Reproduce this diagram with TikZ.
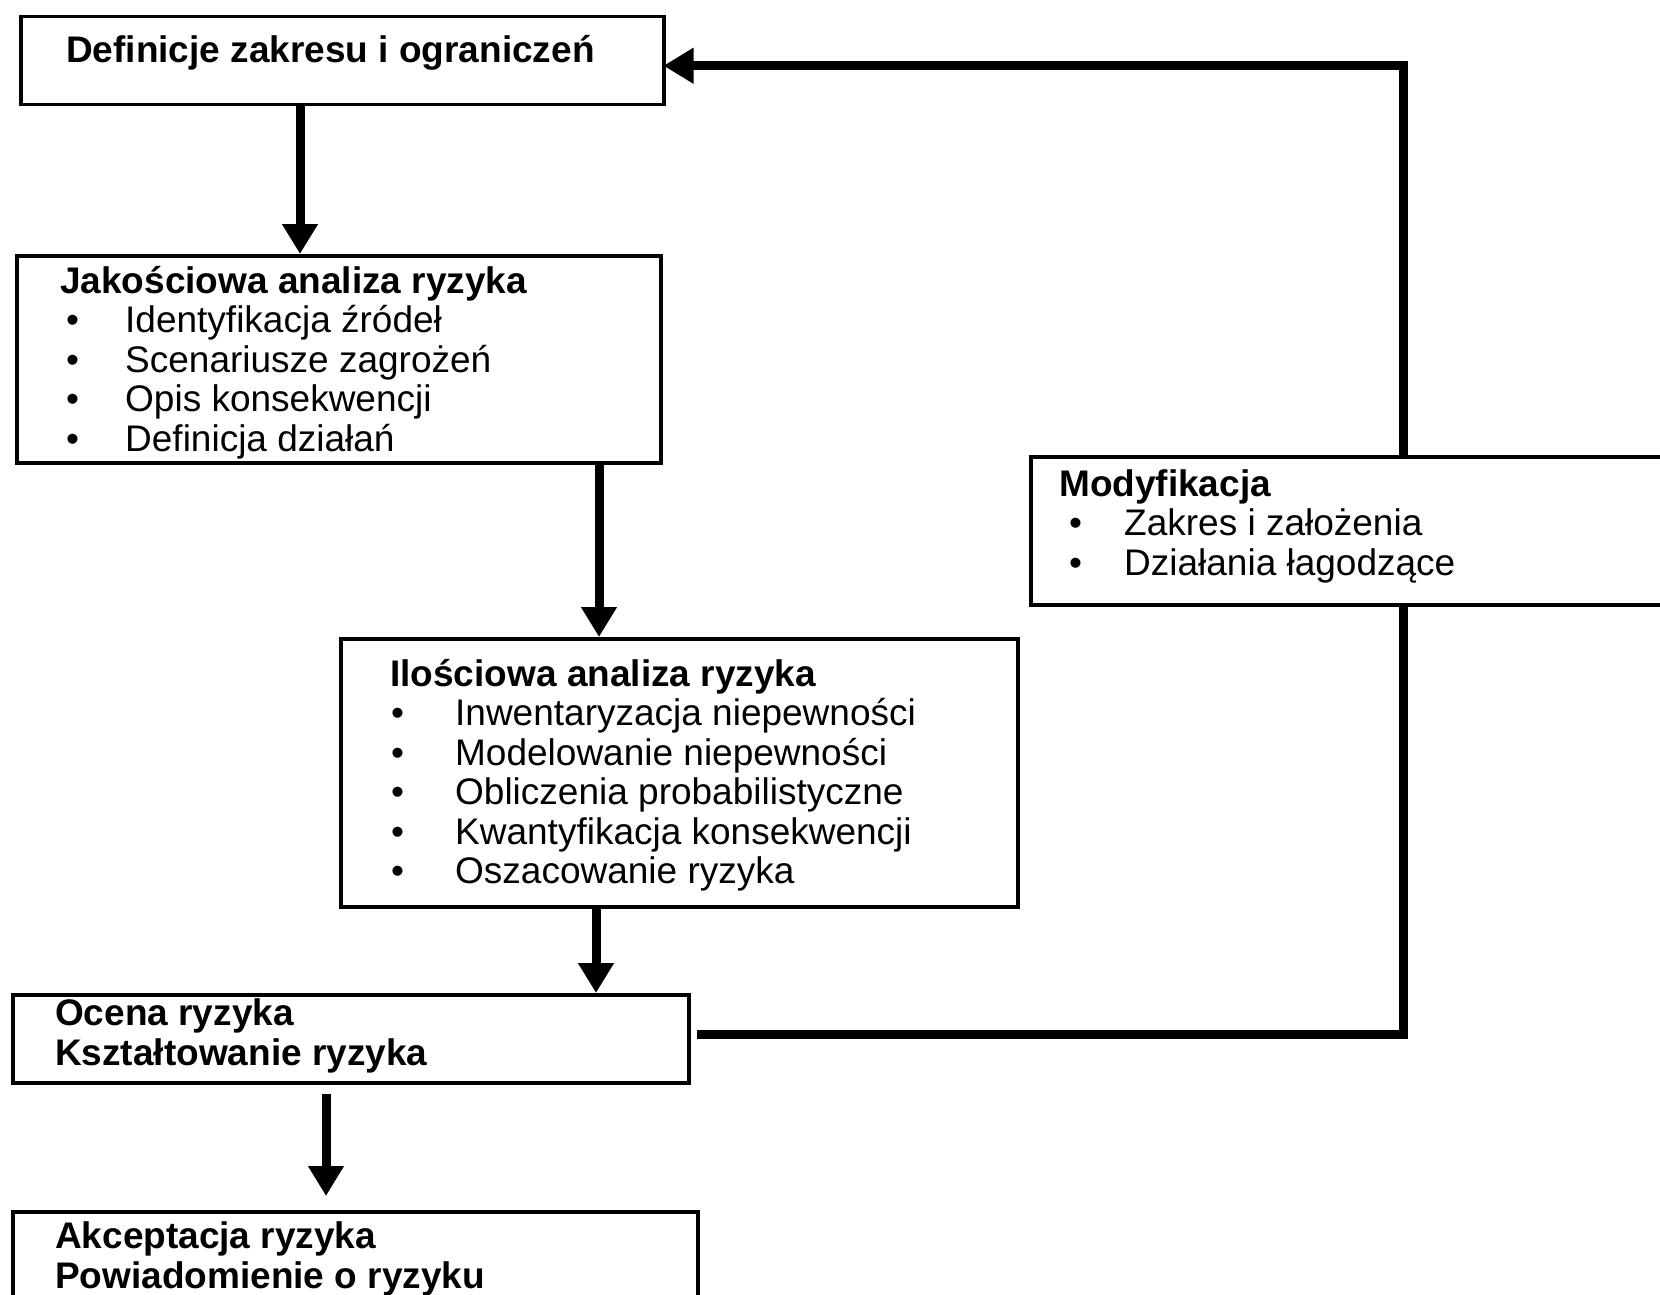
\documentclass[tikz,border=0pt]{standalone}
\usepackage{fontspec}
\setmainfont{Liberation Sans}
\usetikzlibrary{arrows.meta}
\begin{document}
\begin{tikzpicture}[x=1pt,y=-1pt,
  box/.style={draw, line width=3.5pt, rectangle, anchor=north west, inner sep=0pt},
  ln/.style={anchor=base west, inner sep=0pt, font=\fontsize{37}{40}\selectfont},
  hd/.style={anchor=base west, inner sep=0pt, font=\fontsize{37}{40}\selectfont\bfseries},
  conn/.style={line width=9pt},
  arr/.style={conn, -{Triangle[length=30pt,width=34pt]}}]
\useasboundingbox (0,0) rectangle (1660,1295);
\clip (0,0) rectangle (1660,1295);

% boxes
\node[box, minimum width=643pt, minimum height=88pt]  (def) at (19,15) {};
\node[box, minimum width=644pt, minimum height=207pt] (jak) at (15,254) {};
\node[box, minimum width=677pt, minimum height=268pt] (ilo) at (339,637) {};
\node[box, minimum width=676pt, minimum height=88pt]  (oce) at (11,993) {};
\node[box, minimum width=685pt, minimum height=110pt] (akc) at (11,1210) {};
\node[box, minimum width=746pt, minimum height=148pt] (mod) at (1029,455) {};

% texts
\node[hd] (t1) at (66,63) {Definicje zakresu i ograniczeń};

\node[hd] (t2) at (60,293) {Jakościowa analiza ryzyka};
\node[ln] (t2a) at (66,332.5) {\makebox[59pt][l]{•}Identyfikacja źródeł};
\node[ln] (t2b) at (66,372) {\makebox[59pt][l]{•}Scenariusze zagrożeń};
\node[ln] (t2c) at (66,411.5) {\makebox[59pt][l]{•}Opis konsekwencji};
\node[ln] (t2d) at (66,451) {\makebox[59pt][l]{•}Definicja działań};

\node[hd] (t3) at (390,686) {Ilościowa analiza ryzyka};
\node[ln] (t3a) at (391,725.5) {\makebox[64pt][l]{•}Inwentaryzacja niepewności};
\node[ln] (t3b) at (391,765) {\makebox[64pt][l]{•}Modelowanie niepewności};
\node[ln] (t3c) at (391,804.5) {\makebox[64pt][l]{•}Obliczenia probabilistyczne};
\node[ln] (t3d) at (391,844) {\makebox[64pt][l]{•}Kwantyfikacja konsekwencji};
\node[ln] (t3e) at (391,883.5) {\makebox[64pt][l]{•}Oszacowanie ryzyka};

\node[hd] (t4) at (55,1025) {Ocena ryzyka};
\node[hd] (t4a) at (55,1065) {Kształtowanie ryzyka};

\node[hd] (t5) at (55,1248) {Akceptacja ryzyka};
\node[hd] (t5a) at (55,1288) {Powiadomienie o ryzyku};

\node[hd] (t6) at (1059,496) {Modyfikacja};
\node[ln] (t6a) at (1069,535.5) {\makebox[55pt][l]{•}Zakres i założenia};
\node[ln] (t6b) at (1069,575) {\makebox[55pt][l]{•}Działania łagodzące};

% arrow columns
\coordinate (c1) at (300,0);
\coordinate (c2) at (599,0);
\coordinate (c3) at (596,0);
\coordinate (c4) at (326,0);

% connectors
\draw[arr] (def.south -| c1) -- (jak.north -| c1);
\draw[arr] (jak.south -| c2) -- (ilo.north -| c2);
\draw[arr] (ilo.south -| c3) -- (oce.north -| c3);
\draw[arr, shorten <=9pt, shorten >=14pt] (oce.south -| c4) -- (akc.north -| c4);
\draw[conn] ([xshift=6pt,yshift=4pt]oce.east) -| (mod.south);
\draw[arr] (mod.north) |- ([xshift=-2pt,yshift=-5pt]def.east);
\end{tikzpicture}
\end{document}
